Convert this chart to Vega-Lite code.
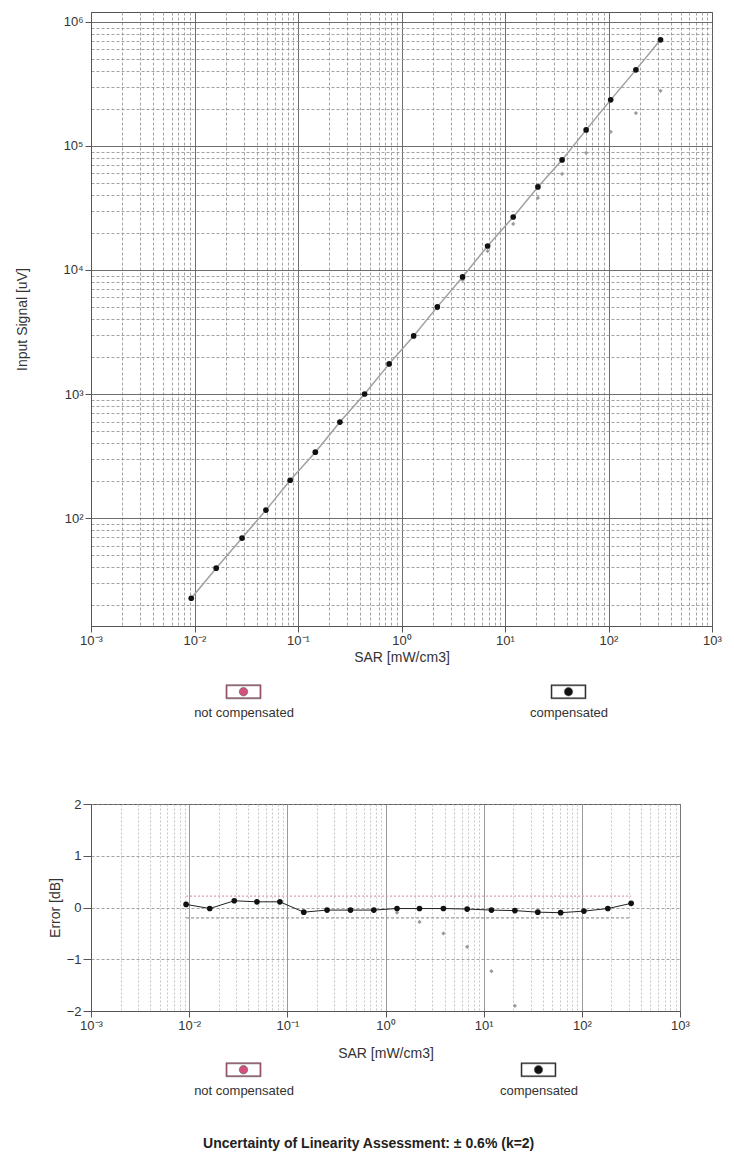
{
  "$schema": "https://vega.github.io/schema/vega-lite/v6.json",
  "padding": {"left": 15, "top": 11, "right": 12, "bottom": 6},
  "background": "white",
  "config": {
    "font": "Liberation Sans",
    "view": {"stroke": "#555", "strokeWidth": 1},
    "axis": {"labelFont": "Liberation Sans", "labelFontSize": 13, "labelColor": "#333", "titleFont": "Liberation Sans", "titleFontSize": 14, "titleFontWeight": "normal", "titleColor": "#333", "domainColor": "#555", "tickColor": "#555", "labelOverlap": false, "labelFlush": false},
    "legend": {"labelFont": "Liberation Sans", "labelFontSize": 13, "labelColor": "#333"}
  },
  "datasets": {
    "comp": [
      {"sar": 0.0093, "signal": 22.6, "err": 0.06},
      {"sar": 0.0162, "signal": 39.5, "err": -0.02},
      {"sar": 0.0288, "signal": 69, "err": 0.13},
      {"sar": 0.049, "signal": 116, "err": 0.11},
      {"sar": 0.084, "signal": 202, "err": 0.11},
      {"sar": 0.147, "signal": 340, "err": -0.09},
      {"sar": 0.254, "signal": 594, "err": -0.05},
      {"sar": 0.44, "signal": 1000, "err": -0.05},
      {"sar": 0.76, "signal": 1750, "err": -0.05},
      {"sar": 1.31, "signal": 2940, "err": -0.02},
      {"sar": 2.22, "signal": 5040, "err": -0.02},
      {"sar": 3.89, "signal": 8790, "err": -0.02},
      {"sar": 6.79, "signal": 15600, "err": -0.03},
      {"sar": 12.0, "signal": 26700, "err": -0.05},
      {"sar": 20.8, "signal": 46700, "err": -0.06},
      {"sar": 35.6, "signal": 77100, "err": -0.09},
      {"sar": 60.8, "signal": 134600, "err": -0.1},
      {"sar": 105, "signal": 235000, "err": -0.07},
      {"sar": 184, "signal": 410000, "err": -0.02},
      {"sar": 318, "signal": 716000, "err": 0.08}
    ],
    "nc": [
      {"sar": 0.0093, "signal": 22.6, "err": 0.06},
      {"sar": 0.0162, "signal": 39.5, "err": -0.02},
      {"sar": 0.0288, "signal": 69, "err": 0.13},
      {"sar": 0.049, "signal": 116, "err": 0.11},
      {"sar": 0.084, "signal": 202, "err": 0.11},
      {"sar": 0.147, "signal": 340, "err": -0.09},
      {"sar": 0.254, "signal": 594, "err": -0.05},
      {"sar": 0.44, "signal": 1000, "err": -0.05},
      {"sar": 0.76, "signal": 1750, "err": -0.07},
      {"sar": 1.31, "signal": 2940, "err": -0.1},
      {"sar": 2.22, "signal": 4880, "err": -0.28},
      {"sar": 3.89, "signal": 8300, "err": -0.5},
      {"sar": 6.79, "signal": 14200, "err": -0.76},
      {"sar": 12.0, "signal": 23500, "err": -1.23},
      {"sar": 20.8, "signal": 38100, "err": -1.9},
      {"sar": 35.6, "signal": 59400, "err": null},
      {"sar": 60.8, "signal": 87900, "err": null},
      {"sar": 105, "signal": 130000, "err": null},
      {"sar": 184, "signal": 184000, "err": null},
      {"sar": 318, "signal": 278000, "err": null}
    ],
    "bounds": [
      {"sar": 0.0093, "err": 0.22, "b": "upper"},
      {"sar": 318, "err": 0.22, "b": "upper"},
      {"sar": 0.0093, "err": -0.2, "b": "lower"},
      {"sar": 318, "err": -0.2, "b": "lower"}
    ],
    "series": [
      {"series": "not compensated"},
      {"series": "compensated"}
    ]
  },
  "spacing": 178,
  "bounds": "flush",
  "resolve": {"scale": {"x": "independent", "y": "independent", "color": "independent"}, "legend": {"color": "independent"}},
  "title": {"text": "Uncertainty of Linearity Assessment: ± 0.6% (k=2)", "orient": "bottom", "anchor": "middle", "fontSize": 14, "fontWeight": "bold", "font": "Liberation Sans", "color": "#222", "offset": 38},
  "vconcat": [
    {
      "width": 621,
      "height": 614,
      "layer": [
        {
          "data": {"name": "comp"},
          "mark": {"type": "line", "color": "#a0a0a0", "strokeWidth": 1.5},
          "encoding": {
            "x": {"field": "sar", "type": "quantitative", "scale": {"type": "log", "domain": [0.001, 1000], "nice": false},
              "axis": {"title": "SAR [mW/cm3]", "titlePadding": 3, "labelPadding": 2,
                "values": [0.001,0.002,0.003,0.004,0.005,0.006,0.007,0.008,0.009,0.01,0.02,0.03,0.04,0.05,0.06,0.07,0.08,0.09,0.1,0.2,0.3,0.4,0.5,0.6,0.7,0.8,0.9,1,2,3,4,5,6,7,8,9,10,20,30,40,50,60,70,80,90,100,200,300,400,500,600,700,800,900,1000],
                "labelExpr": "abs(log(datum.value)/LN10 - round(log(datum.value)/LN10)) < 0.01 ? '10' + (round(log(datum.value)/LN10) < 0 ? '⁻' : '') + substring('⁰¹²³⁴⁵⁶⁷⁸⁹', abs(round(log(datum.value)/LN10)), abs(round(log(datum.value)/LN10)) + 1) : ''",
                "grid": true, "gridWidth": 0.9,
                "gridColor": {"condition": {"test": "abs(log(datum.value)/LN10 - round(log(datum.value)/LN10)) < 0.01", "value": "#5f5f5f"}, "value": "#999999"},
                "gridDash": {"condition": {"test": "abs(log(datum.value)/LN10 - round(log(datum.value)/LN10)) < 0.01", "value": []}, "value": [3, 2]},
                "tickSize": {"condition": {"test": "abs(log(datum.value)/LN10 - round(log(datum.value)/LN10)) < 0.01", "value": 6}, "value": 0}}},
            "y": {"field": "signal", "type": "quantitative", "scale": {"type": "log", "domain": [13.5, 1200000], "nice": false},
              "axis": {"title": "Input Signal [uV]", "titlePadding": 33, "labelPadding": 2,
                "values": [20,30,40,50,60,70,80,90,100,200,300,400,500,600,700,800,900,1000,2000,3000,4000,5000,6000,7000,8000,9000,10000,20000,30000,40000,50000,60000,70000,80000,90000,100000,200000,300000,400000,500000,600000,700000,800000,900000,1000000],
                "labelExpr": "abs(log(datum.value)/LN10 - round(log(datum.value)/LN10)) < 0.01 ? '10' + substring('⁰¹²³⁴⁵⁶⁷⁸⁹', round(log(datum.value)/LN10), round(log(datum.value)/LN10) + 1) : ''",
                "grid": true, "gridWidth": 0.9,
                "gridColor": {"condition": {"test": "abs(log(datum.value)/LN10 - round(log(datum.value)/LN10)) < 0.01", "value": "#5f5f5f"}, "value": "#999999"},
                "gridDash": {"condition": {"test": "abs(log(datum.value)/LN10 - round(log(datum.value)/LN10)) < 0.01", "value": []}, "value": [3, 2]},
                "tickSize": {"condition": {"test": "abs(log(datum.value)/LN10 - round(log(datum.value)/LN10)) < 0.01", "value": 6}, "value": 0}}}
          }
        },
        {
          "data": {"name": "nc"},
          "mark": {"type": "point", "shape": "diamond", "filled": true, "color": "#9a9a9a", "size": 18, "opacity": 1},
          "encoding": {"x": {"field": "sar", "type": "quantitative"}, "y": {"field": "signal", "type": "quantitative"}}
        },
        {
          "data": {"name": "comp"},
          "mark": {"type": "point", "shape": "circle", "filled": true, "color": "#111", "size": 32, "opacity": 1},
          "encoding": {"x": {"field": "sar", "type": "quantitative"}, "y": {"field": "signal", "type": "quantitative"}}
        },
        {
          "data": {"name": "series"},
          "mark": {"type": "point", "filled": true, "opacity": 0},
          "encoding": {
            "color": {"field": "series", "type": "nominal", "scale": {"domain": ["not compensated", "compensated"], "range": ["#d4507f", "#111111"]},
              "legend": {"orient": "none", "legendX": 145, "legendY": 672, "direction": "horizontal", "columns": 2, "columnPadding": 235, "title": null, "padding": 0,
                "symbolType": "M-2.5,-1H2.5V1H-2.5Z M-2.35,-0.85V0.85H2.35V-0.85Z M-0.6,0A0.6,0.6 0 1,1 0.6,0A0.6,0.6 0 1,1 -0.6,0Z",
                "symbolSize": 196, "symbolStrokeColor": "#555", "symbolStrokeWidth": 0.6,
                "labelAlign": "center", "labelOffset": -7, "labelBaseline": "top", "labelLimit": 0,
                "labelExpr": "['', datum.label]"}}
          }
        }
      ]
    },
    {
      "width": 589,
      "height": 207,
      "layer": [
        {
          "data": {"name": "bounds"},
          "transform": [{"filter": "datum.b === 'upper'"}],
          "mark": {"type": "line", "color": "#d8a0b2", "strokeWidth": 1.3, "strokeDash": [2, 2]},
          "encoding": {
            "x": {"field": "sar", "type": "quantitative", "scale": {"type": "log", "domain": [0.001, 1000], "nice": false},
              "axis": {"title": "SAR [mW/cm3]", "titlePadding": 14, "labelPadding": 2,
                "values": [0.001,0.002,0.003,0.004,0.005,0.006,0.007,0.008,0.009,0.01,0.02,0.03,0.04,0.05,0.06,0.07,0.08,0.09,0.1,0.2,0.3,0.4,0.5,0.6,0.7,0.8,0.9,1,2,3,4,5,6,7,8,9,10,20,30,40,50,60,70,80,90,100,200,300,400,500,600,700,800,900,1000],
                "labelExpr": "abs(log(datum.value)/LN10 - round(log(datum.value)/LN10)) < 0.01 ? '10' + (round(log(datum.value)/LN10) < 0 ? '⁻' : '') + substring('⁰¹²³⁴⁵⁶⁷⁸⁹', abs(round(log(datum.value)/LN10)), abs(round(log(datum.value)/LN10)) + 1) : ''",
                "grid": true, "gridWidth": 0.8,
                "gridColor": {"condition": {"test": "abs(log(datum.value)/LN10 - round(log(datum.value)/LN10)) < 0.01", "value": "#808080"}, "value": "#b8b8b8"},
                "gridDash": {"condition": {"test": "abs(log(datum.value)/LN10 - round(log(datum.value)/LN10)) < 0.01", "value": []}, "value": [2, 2]},
                "tickSize": {"condition": {"test": "abs(log(datum.value)/LN10 - round(log(datum.value)/LN10)) < 0.01", "value": 6}, "value": 0}}},
            "y": {"field": "err", "type": "quantitative", "scale": {"domain": [-2, 2], "nice": false},
              "axis": {"title": "Error [dB]", "titlePadding": 4, "labelPadding": 2,
                "values": [-2, -1.5, -1, -0.5, 0, 0.5, 1, 1.5, 2],
                "labelExpr": "datum.value % 1 === 0 ? format(datum.value, 'd') : ''",
                "grid": true, "gridWidth": 0.8, "gridColor": "#8a8a8a", "gridDash": [3, 2],
                "gridOpacity": {"condition": {"test": "datum.value % 1 === 0", "value": 1}, "value": 0},
                "tickSize": {"condition": {"test": "datum.value % 1 === 0", "value": 8}, "value": -6}}}
          }
        },
        {
          "data": {"name": "bounds"},
          "transform": [{"filter": "datum.b === 'lower'"}],
          "mark": {"type": "line", "color": "#9a9a9a", "strokeWidth": 1.3, "strokeDash": [3, 2]},
          "encoding": {"x": {"field": "sar", "type": "quantitative"}, "y": {"field": "err", "type": "quantitative"}}
        },
        {
          "data": {"name": "comp"},
          "mark": {"type": "line", "color": "#222", "strokeWidth": 1},
          "encoding": {"x": {"field": "sar", "type": "quantitative"}, "y": {"field": "err", "type": "quantitative"}}
        },
        {
          "data": {"name": "nc"},
          "mark": {"type": "point", "shape": "diamond", "filled": true, "color": "#9a9a9a", "size": 18, "opacity": 1},
          "encoding": {"x": {"field": "sar", "type": "quantitative"}, "y": {"field": "err", "type": "quantitative"}}
        },
        {
          "data": {"name": "comp"},
          "mark": {"type": "point", "shape": "circle", "filled": true, "color": "#111", "size": 32, "opacity": 1},
          "encoding": {"x": {"field": "sar", "type": "quantitative"}, "y": {"field": "err", "type": "quantitative"}}
        },
        {
          "data": {"name": "series"},
          "mark": {"type": "point", "filled": true, "opacity": 0},
          "encoding": {
            "color": {"field": "series", "type": "nominal", "scale": {"domain": ["not compensated", "compensated"], "range": ["#d4507f", "#111111"]},
              "legend": {"orient": "none", "legendX": 145, "legendY": 258, "direction": "horizontal", "columns": 2, "columnPadding": 205, "title": null, "padding": 0,
                "symbolType": "M-2.5,-1H2.5V1H-2.5Z M-2.35,-0.85V0.85H2.35V-0.85Z M-0.6,0A0.6,0.6 0 1,1 0.6,0A0.6,0.6 0 1,1 -0.6,0Z",
                "symbolSize": 196, "symbolStrokeColor": "#555", "symbolStrokeWidth": 0.6,
                "labelAlign": "center", "labelOffset": -7, "labelBaseline": "top", "labelLimit": 0,
                "labelExpr": "['', datum.label]"}}
          }
        }
      ]
    }
  ]
}
